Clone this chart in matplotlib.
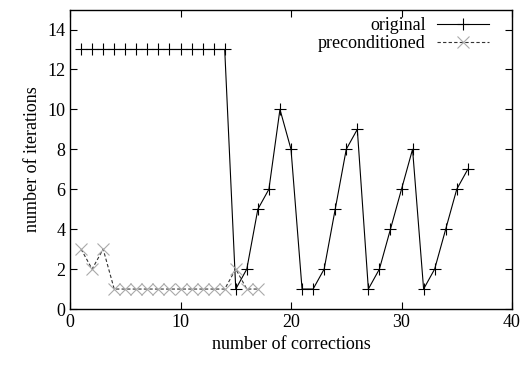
import matplotlib
matplotlib.use("Agg")
import matplotlib.pyplot as plt

x_orig = list(range(1, 37))
y_orig = [13, 13, 13, 13, 13, 13, 13, 13, 13, 13, 13, 13, 13, 13,
          1, 2, 5, 6, 10, 8, 1, 1, 2, 5, 8, 9, 1, 2, 4, 6, 8, 1, 2, 4, 6, 7]
x_pre = list(range(1, 18))
y_pre = [3, 2, 3, 1, 1, 1, 1, 1, 1, 1, 1, 1, 1, 1, 2, 1, 1]

plt.rcParams['font.family'] = ['Liberation Serif', 'DejaVu Serif']
plt.rcParams['font.size'] = 13

fig = plt.figure(figsize=(5.26, 3.67), dpi=100)
ax = fig.add_axes([0.1331, 0.158, 0.8403, 0.816])

ax.plot(x_orig, y_orig, color='black', lw=0.8, marker='+', markersize=9,
        markeredgewidth=0.8, label='original')
ax.plot(x_pre, y_pre, color='#333333', lw=0.8, ls=(0, (3, 2)), marker='x', markersize=8,
        markeredgewidth=0.8, markeredgecolor='#aaaaaa', label='preconditioned')

ax.set_xlim(0, 40)
ax.set_ylim(0, 15)
ax.set_xticks([0, 10, 20, 30, 40])
ax.set_yticks([0, 2, 4, 6, 8, 10, 12, 14])
ax.tick_params(direction='in', top=True, right=True, length=5, width=0.8, labelsize=13)
for s in ax.spines.values():
    s.set_linewidth(1.0)
ax.set_xlabel('number of corrections', fontsize=13)
ax.set_ylabel('number of iterations', fontsize=13)

leg = ax.legend(loc='upper right', frameon=False, markerfirst=False, handlelength=2.9,
                borderaxespad=0.0, borderpad=0.1, labelspacing=0.05, handletextpad=0.6,
                fontsize=13, bbox_to_anchor=(0.952, 0.98))

fig.savefig('out.png', dpi=100)
